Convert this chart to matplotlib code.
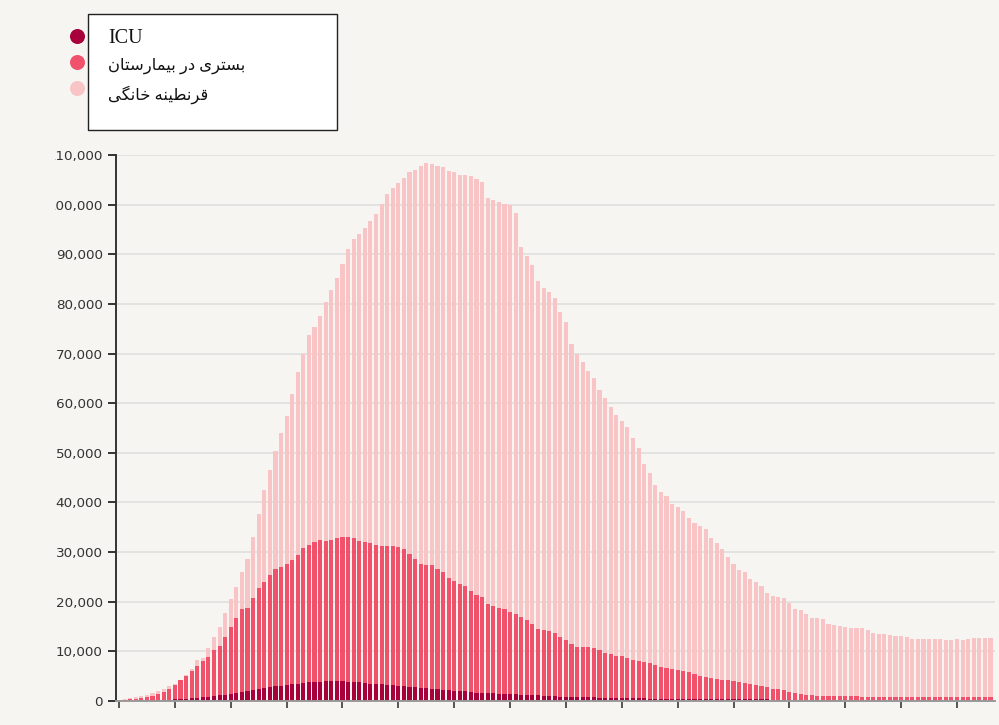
import numpy as np
import matplotlib
matplotlib.use("Agg")
import matplotlib.pyplot as plt
from matplotlib.patches import Rectangle, Circle

# daily counts, one bar per day
home_quarantine = [300, 400, 550, 750, 950, 1200, 1700, 2000, 2500, 3000,
                   3500, 4200, 5200, 6500, 8200, 8700, 10700, 12800, 14900, 17700,
                   20600, 23000, 26000, 28600, 33100, 37600, 42600, 46500, 50400, 54000,
                   57400, 61900, 66300, 69900, 73700, 75400, 77600, 80400, 82900, 85200,
                   88100, 91100, 93000, 94000, 95200, 96800, 98200, 100100, 102200, 103400,
                   104300, 105400, 106500, 106900, 107800, 108300, 108200, 107700, 107600, 106800,
                   106500, 105900, 106000, 105800, 105200, 104500, 101400, 100900, 100600, 100100,
                   99900, 98300, 91500, 89600, 87900, 84700, 83200, 82300, 81100, 78300,
                   76300, 71900, 70000, 68200, 66500, 65000, 62700, 61000, 59200, 57700,
                   56500, 55200, 52900, 50900, 47800, 46000, 43500, 42100, 41200, 39700,
                   39100, 38300, 36800, 35800, 35200, 34600, 32800, 31800, 30700, 29100,
                   27600, 26400, 25900, 24600, 24000, 23200, 21700, 21200, 21000, 20700,
                   19700, 18600, 18400, 17600, 16800, 16800, 16500, 15600, 15300, 15100,
                   14900, 14700, 14700, 14800, 14300, 13600, 13500, 13400, 13300, 13100,
                   13100, 12900, 12500, 12500, 12500, 12500, 12500, 12500, 12200, 12300,
                   12400, 12300, 12500, 12600, 12600, 12600, 12700]

hospital = [150, 250, 350, 500, 700, 900, 1100, 1400, 1800, 2400,
            3300, 4300, 5100, 6100, 7000, 8000, 8800, 10300, 11000, 12800,
            15000, 16700, 18500, 18800, 20700, 22800, 24000, 25400, 26500, 27000,
            27600, 28400, 29500, 30900, 31500, 32000, 32400, 32300, 32500, 32800,
            33000, 33000, 32800, 32300, 32000, 31800, 31500, 31300, 31200, 31200,
            31100, 30700, 29700, 28600, 27700, 27500, 27300, 26500, 25900, 24800,
            24100, 23500, 23200, 22100, 21400, 20900, 19600, 19100, 18700, 18500,
            18000, 17500, 16900, 16300, 15600, 14600, 14400, 14200, 13700, 12900,
            12200, 11500, 10900, 10900, 10800, 10600, 10200, 9700, 9400, 9000,
            9000, 8600, 8300, 8100, 7800, 7600, 7200, 6800, 6600, 6500,
            6300, 6000, 5800, 5400, 5100, 4900, 4700, 4500, 4300, 4200,
            4000, 3800, 3600, 3400, 3200, 3000, 2800, 2500, 2400, 2200,
            1900, 1700, 1500, 1300, 1200, 1100, 1100, 1000, 1000, 1000,
            950, 950, 950, 900, 900, 900, 900, 900, 900, 900,
            900, 900, 900, 900, 850, 850, 850, 850, 850, 850,
            850, 850, 850, 850, 850, 850, 850]

icu = [50, 60, 80, 100, 120, 150, 180, 220, 260, 300,
       350, 420, 500, 560, 650, 750, 870, 1000, 1150, 1300,
       1450, 1600, 1800, 2000, 2200, 2400, 2600, 2800, 3000, 3100,
       3250, 3400, 3500, 3650, 3800, 3850, 3900, 3950, 3950, 3950,
       3950, 3900, 3850, 3750, 3600, 3500, 3450, 3400, 3300, 3200,
       3100, 3000, 2850, 2750, 2650, 2600, 2500, 2400, 2250, 2200,
       2100, 2050, 1950, 1800, 1700, 1650, 1600, 1550, 1500, 1450,
       1400, 1350, 1300, 1250, 1200, 1150, 1100, 1000, 950, 900,
       850, 820, 800, 780, 750, 720, 700, 670, 650, 620,
       600, 580, 560, 540, 520, 500, 480, 470, 460, 450,
       440, 430, 420, 410, 400, 390, 380, 370, 360, 350,
       340, 330, 330, 320, 320, 310, 310, 300, 300, 300,
       290, 290, 290, 280, 280, 280, 280, 280, 270, 270,
       270, 270, 270, 270, 260, 260, 260, 260, 260, 260,
       260, 260, 250, 250, 250, 250, 250, 250, 250, 250,
       250, 250, 250, 250, 250, 250, 250]

labels = ["ICU", "بستری در بیمارستان", "قرنطینه خانگی"]
colors = ["#a8003b", "#f0526b", "#f9c4c6"]
y_ticks = list(range(0, 110001, 10000))

BG = "#f6f5f1"

# --- minimal Persian shaping (matplotlib has no layout for right-to-left scripts)
FORMS = {  # isolated, final, initial, medial
    "ب": "\uFE8F\uFE90\uFE91\uFE92", "س": "\uFEB1\uFEB2\uFEB3\uFEB4",
    "ت": "\uFE95\uFE96\uFE97\uFE98", "ی": "\uFBFC\uFBFD\uFBFE\uFBFF",
    "م": "\uFEE1\uFEE2\uFEE3\uFEE4", "ن": "\uFEE5\uFEE6\uFEE7\uFEE8",
    "ق": "\uFED5\uFED6\uFED7\uFED8", "ط": "\uFEC1\uFEC2\uFEC3\uFEC4",
    "ه": "\uFEE9\uFEEA\uFEEB\uFEEC", "خ": "\uFEA5\uFEA6\uFEA7\uFEA8",
    "گ": "\uFB92\uFB93\uFB94\uFB95",
    "ر": "\uFEAD\uFEAE", "د": "\uFEA9\uFEAA", "ا": "\uFE8D\uFE8E",
}


def shape_rtl(s):
    if not any(c in FORMS for c in s):
        return s
    out = []
    for k, c in enumerate(s):
        if c not in FORMS:
            out.append(c)
            continue
        p = s[k - 1] if k > 0 else ""
        n = s[k + 1] if k + 1 < len(s) else ""
        join_prev = p in FORMS and len(FORMS[p]) == 4
        join_next = n in FORMS and len(FORMS[c]) == 4
        f = FORMS[c]
        if join_prev and join_next:
            out.append(f[3])
        elif join_prev:
            out.append(f[1])
        elif join_next:
            out.append(f[2])
        else:
            out.append(f[0])
    return "".join(out)[::-1]


W, H = 999, 725
fig = plt.figure(figsize=(W / 100, H / 100), dpi=100, facecolor=BG)

x0, x1, ytop, ybot = 116, 995, 155, 701
ax = fig.add_axes([x0 / W, (H - ybot) / H, (x1 - x0) / W, (ybot - ytop) / H])
ax.set_facecolor(BG)

days = np.arange(len(home_quarantine))
ax.bar(days, home_quarantine, width=0.74, color=colors[2], linewidth=0, zorder=2)
ax.bar(days, hospital, width=0.74, color=colors[1], linewidth=0, zorder=3)
ax.bar(days, icu, width=0.74, color=colors[0], linewidth=0, zorder=4)

ax.set_xlim(-0.54, 156.8)
ax.set_ylim(0, 110000)
ax.set_yticks(y_ticks)
ax.set_yticklabels([f"{v:,}" for v in y_ticks])
ax.set_xticks(np.arange(0, 151, 10))
ax.set_xticklabels([])

ax.yaxis.grid(True, color="#dddddd", linewidth=1.1, zorder=0)
ax.set_axisbelow(True)
for s in ["top", "right"]:
    ax.spines[s].set_visible(False)
ax.spines["left"].set_color("#333333")
ax.spines["left"].set_linewidth(1.4)
ax.spines["bottom"].set_color("#9a9a9a")
ax.spines["bottom"].set_linewidth(1.4)
ax.spines["bottom"].set_zorder(5)
ax.tick_params(axis="y", length=6, width=1.4, color="#333333", pad=3.5,
               labelsize=9.7, labelcolor="#333333")
ax.tick_params(axis="x", length=5, width=1.4, color="#555555")

# overlay in pixel coordinates: legend box and the clipped left edge
ov = fig.add_axes([0, 0, 1, 1])
ov.set_xlim(0, W)
ov.set_ylim(H, 0)
ov.axis("off")
ov.patch.set_alpha(0)
ov.add_patch(Rectangle((0, 140), 54.5, 575, facecolor=BG, edgecolor="none"))

ov.add_patch(Rectangle((88, 14), 249, 116, facecolor="white", edgecolor="#222222", linewidth=1.0))
marker_y = [36.5, 62.5, 88.5]
text_y = [38, 66, 95]
text_size = [14.5, 11.8, 11.8]
for lab, col, my, ty, fs in zip(labels, colors, marker_y, text_y, text_size):
    ov.add_patch(Circle((77.5, my), 7.5, facecolor=col, edgecolor="none"))
    ov.text(108, ty, shape_rtl(lab), ha="left", va="center", fontsize=fs,
            family=["Liberation Serif", "DejaVu Sans"], color="#111111")

fig.savefig("out.png", dpi=100, facecolor=BG)
